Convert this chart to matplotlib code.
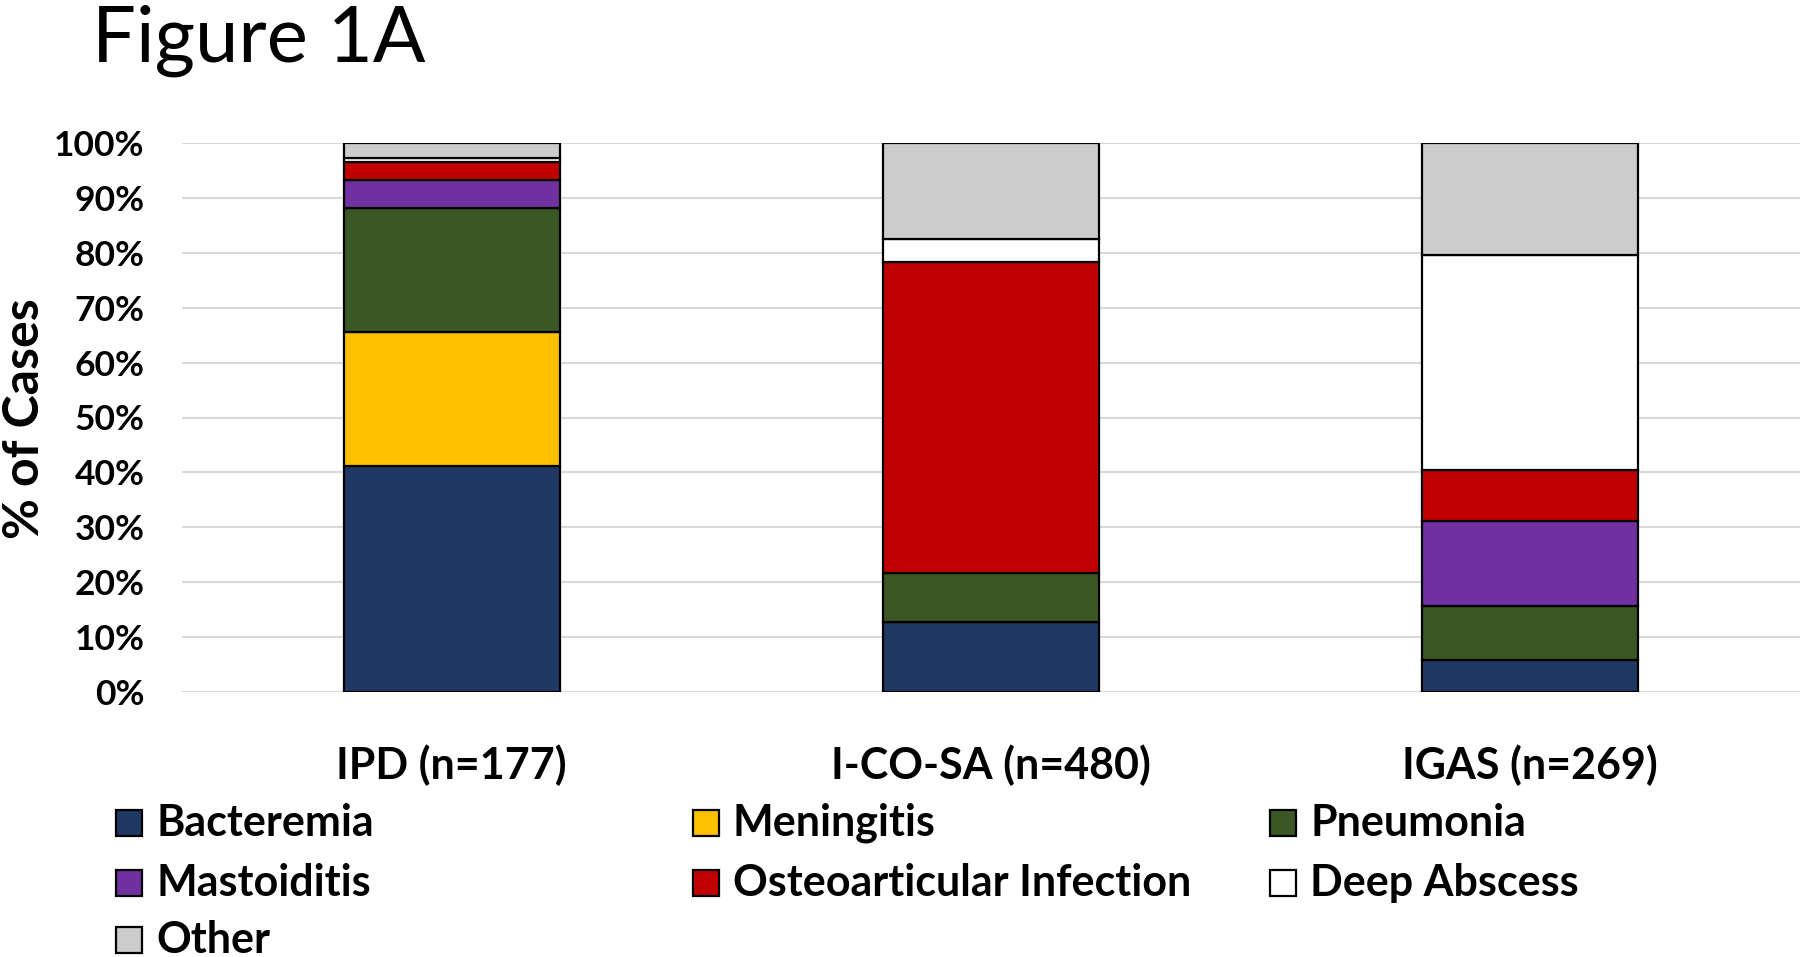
import matplotlib
matplotlib.use('Agg')
import matplotlib.pyplot as plt
from matplotlib.patches import Rectangle
import numpy as np

# ── Données (% des cas) ────────────────────────────────────────────────
groups = ['IPD (n=177)', 'I-CO-SA (n=480)', 'IGAS (n=269)']
categories = ['Bacteremia', 'Meningitis', 'Pneumonia', 'Mastoiditis',
              'Osteoarticular Infection', 'Deep Abscess', 'Other']
ipd = [41.2, 24.3, 22.6, 5.1, 3.4, 0.6, 2.8]
icosa = [12.7, 0.0, 9.0, 0.0, 56.7, 4.2, 17.4]
igas = [5.9, 0.0, 9.7, 15.6, 9.3, 39.1, 20.4]
colors = ['#203864', '#FFC000', '#3B5723', '#7030A0', '#C00000', '#FFFFFF', '#CCCCCC']
yticks = np.arange(0, 101, 10)

W, H = 1800, 957
FONT = ['Lato', 'DejaVu Sans']
plt.rcParams['font.family'] = FONT

fig = plt.figure(figsize=(W / 100, H / 100), dpi=100)
ax = fig.add_axes([182 / W, 1 - 692 / H, 1 - 182 / W, (692 - 143) / H])

values = np.array([ipd, icosa, igas])
x = np.arange(len(groups))
bottom = np.zeros(len(groups))
for j, cat in enumerate(categories):
    h = values[:, j]
    ax.bar(x, h, 0.4, bottom=bottom, color=colors[j], edgecolor='black',
           linewidth=1.6, zorder=3, label=cat)
    bottom += h

ax.set_xlim(-0.5, 2.5)
ax.set_ylim(0, 100)
ax.set_yticks(yticks)
ax.set_yticklabels([f"{v}%" for v in yticks], fontsize=25.5, fontweight='bold')
ax.set_xticks(x)
ax.set_xticklabels(groups, fontsize=31, fontweight='bold')
ax.tick_params(axis='y', length=0, pad=27)
ax.tick_params(axis='x', length=0, pad=38)
ax.grid(axis='y', color='#D9D9D9', linewidth=1.5, zorder=0)
for s in ax.spines.values():
    s.set_visible(False)

# ── Titre et label y ───────────────────────────────────────────────────
fig.text(92 / W, 1 - 62 / H, 'Figure 1A', fontsize=56, fontweight='normal',
         ha='left', va='baseline')
fig.text(25 / W, 1 - 419 / H, '% of Cases', fontsize=36, fontweight='bold',
         rotation=90, ha='center', va='center')

# ── Légende (ordre ligne par ligne, 3 colonnes) ────────────────────────
col_x = [116, 693, 1270]
row_y = [823, 883, 940]
sq = 26
for k, cat in enumerate(categories):
    r, c = divmod(k, 3)
    x0, yc = col_x[c], row_y[r]
    fig.add_artist(Rectangle((x0 / W, 1 - (yc + sq / 2) / H), sq / W, sq / H,
                             transform=fig.transFigure, facecolor=colors[k],
                             edgecolor='black', linewidth=1.6))
    fig.text((x0 + 40) / W, 1 - yc / H, cat, fontsize=31, fontweight='bold',
             ha='left', va='center')

fig.savefig('out.png', dpi=100)
